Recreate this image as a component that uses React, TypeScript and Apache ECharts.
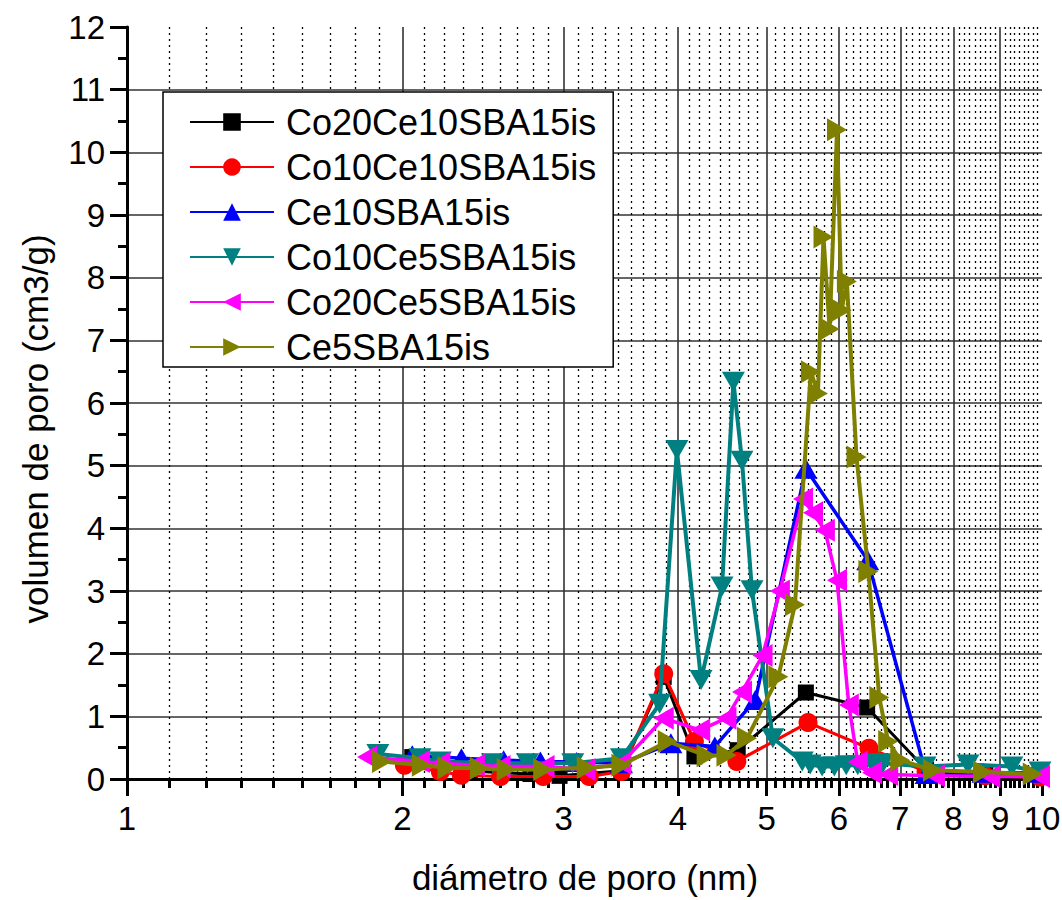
import React, { useEffect, useRef } from "react";
import * as echarts from "echarts";

const FONT = "'Liberation Sans', Arial, Helvetica, sans-serif";

const seriesNames = [
  "Co20Ce10SBA15is",
  "Co10Ce10SBA15is",
  "Ce10SBA15is",
  "Co10Ce5SBA15is",
  "Co20Ce5SBA15is",
  "Ce5SBA15is",
];

const xTickLabels = [1, 2, 3, 4, 5, 6, 7, 8, 9, 10];
const xMinorPerMajor = 8;
const xTitle = "diámetro de poro (nm)";
const yTitle = "volumen de poro (cm3/g)";

const co20ce10: number[][] = [
  [2.05, 0.35], [2.2, 0.22], [2.37, 0.13], [2.56, 0.1], [2.76, 0.08], [2.97, 0.05],
  [3.47, 0.13], [3.86, 1.63], [4.17, 0.36], [4.65, 0.46], [5.52, 1.38], [6.44, 1.14],
  [7.47, 0.15], [8.67, 0.07], [9.95, 0.04],
];
const co10ce10: number[][] = [
  [2.01, 0.22], [2.2, 0.12], [2.32, 0.06], [2.56, 0.04], [2.85, 0.04], [3.2, 0.04],
  [3.47, 0.12], [3.86, 1.68], [4.17, 0.6], [4.64, 0.28], [5.55, 0.9], [6.47, 0.49],
  [7.47, 0.12], [8.67, 0.05], [9.95, 0.03],
];
const ce10: number[][] = [
  [2.05, 0.38], [2.32, 0.33], [2.58, 0.3], [2.83, 0.28], [3.1, 0.27], [3.47, 0.25],
  [3.93, 0.57], [4.39, 0.52], [4.86, 1.26], [5.52, 4.95], [6.45, 3.49], [7.47, 0.08],
  [8.62, 0.1], [9.8, 0.1],
];
const co10ce5: number[][] = [
  [1.88, 0.4], [2.09, 0.33], [2.2, 0.28], [2.51, 0.25], [2.74, 0.25], [3.07, 0.25],
  [3.47, 0.33], [3.82, 1.2], [3.99, 5.25], [4.24, 1.58], [4.47, 3.07], [4.6, 6.34],
  [4.7, 5.08], [4.82, 3.01], [5.08, 0.65], [5.47, 0.28], [5.58, 0.23], [5.75, 0.2],
  [5.93, 0.2], [6.11, 0.22], [6.29, 0.22], [6.52, 0.25], [6.7, 0.25], [7.45, 0.2],
  [8.3, 0.23], [9.27, 0.2], [9.95, 0.12],
];
const co20ce5: number[][] = [
  [1.83, 0.35], [2.09, 0.28], [2.2, 0.25], [2.4, 0.22], [2.56, 0.2], [2.86, 0.2],
  [3.17, 0.15], [3.47, 0.25], [3.86, 0.97], [4.23, 0.78], [4.52, 0.97], [4.7, 1.39],
  [4.95, 1.97], [5.17, 3.0], [5.48, 4.47], [5.62, 4.25], [5.79, 3.97], [5.97, 3.17],
  [6.15, 1.18], [6.29, 0.27], [6.52, 0.1], [6.79, 0.07], [7.64, 0.05], [8.78, 0.04],
  [9.95, 0.04],
];
const ce5: number[][] = [
  [1.9, 0.28], [2.1, 0.22], [2.24, 0.18], [2.43, 0.17], [2.6, 0.15], [2.85, 0.15],
  [3.18, 0.18], [3.47, 0.22], [3.9, 0.6], [4.3, 0.37], [4.52, 0.38], [4.76, 0.65],
  [5.15, 1.63], [5.37, 2.78], [5.59, 6.5], [5.69, 6.15], [5.77, 8.65], [5.86, 7.18],
  [5.97, 10.36], [6.04, 7.48], [6.12, 7.94], [6.27, 5.14], [6.46, 3.31], [6.64, 1.3],
  [6.79, 0.6], [7.0, 0.3], [7.6, 0.14], [8.62, 0.11], [9.77, 0.08],
];

const seriesData = [co20ce10, co10ce10, ce10, co10ce5, co20ce5, ce5];
const colors = ["#000000", "#ff0000", "#0000ff", "#008080", "#ff00ff", "#808000"];
const symbols = ["rect", "circle", "triangle", "triangle", "triangle", "triangle"];
const rotations = [0, 0, 0, 180, 90, -90];
const lineWidths = [3, 3.2, 3.5, 4, 3.5, 4];

function buildMinorTicks(): number[] {
  const out: number[] = [];
  for (let i = 0; i < xTickLabels.length - 1; i++) {
    const a = xTickLabels[i];
    const b = xTickLabels[i + 1];
    for (let k = 1; k <= xMinorPerMajor; k++) {
      out.push(a + ((b - a) * k) / (xMinorPerMajor + 1));
    }
  }
  return out;
}

export default function App() {
  const ref = useRef<HTMLDivElement>(null);

  useEffect(() => {
    if (!ref.current) return;
    const chart = echarts.init(ref.current, null, { renderer: "svg" });
    const minor = buildMinorTicks();

    const series: any[] = seriesNames.map((name, i) => ({
      name,
      type: "line",
      xAxisIndex: 0,
      yAxisIndex: 0,
      data: seriesData[i],
      symbol: symbols[i],
      symbolSize: symbols[i] === "rect" ? 16 : symbols[i] === "circle" ? 19 : [23, 20],
      symbolRotate: rotations[i],
      showSymbol: true,
      lineStyle: { color: colors[i], width: lineWidths[i] },
      itemStyle: { color: colors[i] },
      emphasis: { disabled: true },
      z: 3 + i,
    }));

    chart.setOption({
      animation: false,
      backgroundColor: "#ffffff",
      grid: {
        left: 127,
        right: 20,
        top: 27,
        bottom: 121,
        containLabel: false,
        outerBoundsMode: "none",
      },
      xAxis: [
        {
          type: "log",
          logBase: 10,
          min: 1,
          max: 10,
          position: "bottom",
          axisLine: { show: true, onZero: false, lineStyle: { color: "#000", width: 3 } },
          axisTick: {
            show: true,
            customValues: xTickLabels,
            length: 17,
            lineStyle: { color: "#000", width: 3 },
          },
          axisLabel: {
            show: true,
            customValues: xTickLabels,
            fontSize: 33,
            fontFamily: FONT,
            color: "#000",
            margin: 23,
            formatter: (v: number) => String(Math.round(v)),
          },
          splitLine: {
            show: true,
            showMinLine: false,
            showMaxLine: false,
            lineStyle: { color: "#333", width: 1.6 },
          },
          minorTick: { show: false },
          minorSplitLine: { show: false },
        },
        {
          type: "log",
          logBase: 10,
          min: 1,
          max: 10,
          position: "bottom",
          offset: 0,
          axisLine: { show: false, onZero: false },
          axisTick: {
            show: true,
            customValues: minor,
            length: 9,
            lineStyle: { color: "#000", width: 3 },
          },
          axisLabel: { show: false },
          splitLine: {
            show: true,
            lineStyle: { color: "#000", width: 1.3, type: [2, 4] },
          },
          minorTick: { show: false },
        },
      ],
      yAxis: {
        type: "value",
        min: 0,
        max: 12,
        interval: 1,
        axisLine: { show: true, onZero: false, lineStyle: { color: "#000", width: 3 } },
        axisTick: { show: true, length: 17, lineStyle: { color: "#000", width: 3 } },
        minorTick: { show: true, splitNumber: 2, length: 9, lineStyle: { color: "#000", width: 3 } },
        axisLabel: { fontSize: 33, fontFamily: FONT, color: "#000", margin: 22 },
        splitLine: {
          show: true,
          showMinLine: false,
          showMaxLine: false,
          lineStyle: { color: "#333", width: 1.6 },
        },
      },
      legend: {
        show: true,
        orient: "vertical",
        left: 163,
        top: 92,
        padding: [12, 17, 2, 26],
        itemGap: 9,
        itemWidth: 84,
        itemHeight: 22,
        selectedMode: false,
        backgroundColor: "#ffffff",
        borderColor: "#000",
        borderWidth: 1.5,
        borderRadius: 0,
        textStyle: { fontSize: 36, fontFamily: FONT, color: "#000", padding: [0, 0, 0, 7] },
        data: seriesNames,
        z: 20,
      },
      graphic: [
        {
          type: "text",
          x: 585,
          y: 877,
          style: {
            text: xTitle,
            fontSize: 35,
            fontFamily: FONT,
            fill: "#000",
            align: "center",
            verticalAlign: "middle",
            textAlign: "center",
            textVerticalAlign: "middle",
          },
        },
        {
          type: "text",
          x: 35,
          y: 429,
          rotation: Math.PI / 2,
          style: {
            text: yTitle,
            fontSize: 35,
            fontFamily: FONT,
            fill: "#000",
            align: "center",
            verticalAlign: "middle",
            textAlign: "center",
            textVerticalAlign: "middle",
          },
        },
      ],
      series,
    });

    return () => chart.dispose();
  }, []);

  return (
    <div
      ref={ref}
      style={{ position: "absolute", left: 0, top: 0, width: 1062, height: 900 }}
    />
  );
}
